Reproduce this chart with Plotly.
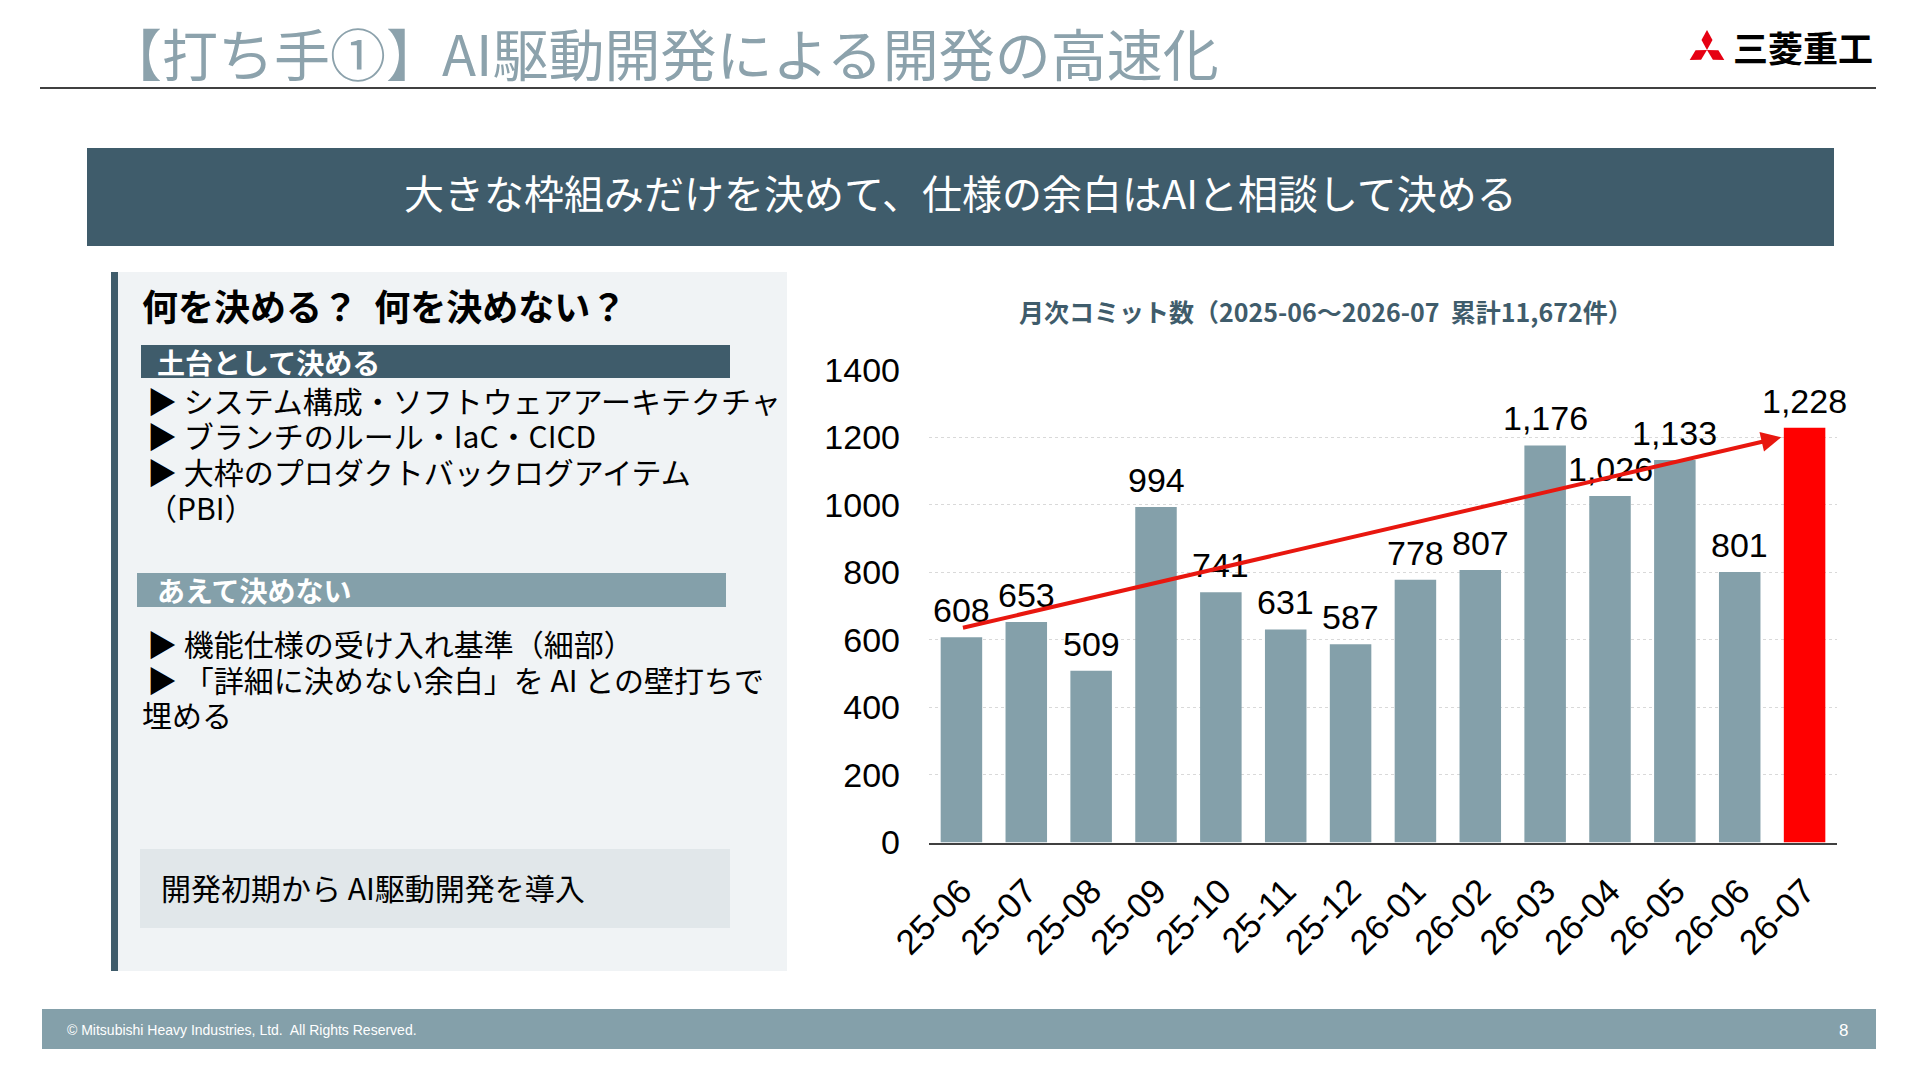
import plotly.graph_objects as go

# monthly commit counts
months = ["25-06", "25-07", "25-08", "25-09", "25-10", "25-11", "25-12",
          "26-01", "26-02", "26-03", "26-04", "26-05", "26-06", "26-07"]
commits = [608, 653, 509, 994, 741, 631, 587, 778, 807, 1176, 1026, 1133, 801, 1228]
y_ticks = [0, 200, 400, 600, 800, 1000, 1200, 1400]

# trend arrow (start month index / value, end month index / value)
trend_start = (0, 635)
trend_end = (12.64, 1200)

W, H = 1920, 1080
JP = "Noto Sans CJK JP"
NUM = "Liberation Sans, Arial, sans-serif"
DARK = "#3F5C6B"
LIGHT = "#84A0AA"


def px(x):
    return x / W


def py(y):
    return 1 - y / H


bar_colors = [LIGHT] * (len(months) - 1) + ["#FF0000"]

fig = go.Figure()
fig.add_trace(go.Bar(
    x=months, y=commits,
    marker=dict(color=bar_colors, line=dict(width=0)),
    showlegend=False, hoverinfo="x+y",
))

shapes = []


def rect(x0, y0, x1, y1, color):
    shapes.append(dict(type="rect", xref="paper", yref="paper",
                       x0=px(x0), x1=px(x1), y0=py(y1), y1=py(y0),
                       fillcolor=color, line=dict(width=0), layer="below"))


# header rule
shapes.append(dict(type="line", xref="paper", yref="paper",
                   x0=px(40), x1=px(1876), y0=py(88), y1=py(88),
                   line=dict(color="#000000", width=1.5)))
# banner
rect(87, 148, 1834, 246, DARK)
# left panel
rect(111, 272, 787, 971, "#F0F3F5")
rect(111, 272, 118, 971, DARK)
rect(141, 345, 730, 378, DARK)
rect(137, 573, 726, 607, LIGHT)
rect(140, 849, 730, 928, "#E1E7EA")
# footer
rect(42, 1009, 1876, 1049, LIGHT)


# logo diamonds
def diamond(pts):
    path = "M " + " L ".join(f"{px(a):.5f},{py(b):.5f}" for a, b in pts) + " Z"
    shapes.append(dict(type="path", xref="paper", yref="paper", path=path,
                       fillcolor="#E60012", line=dict(width=0)))


cx, cy = 1707, 50
diamond([(cx, 30), (cx + 5.5, 40), (cx, cy), (cx - 5.5, 40)])
diamond([(cx, cy), (cx - 5.9, cy + 9.8), (cx - 17.3, cy + 10), (cx - 11.4, cy + 0.2)])
diamond([(cx, cy), (cx + 5.9, cy + 9.8), (cx + 17.3, cy + 10), (cx + 11.4, cy + 0.2)])

ann = []


def text(x, y, s, size, color="#000000", family=JP, xanchor="left", bold=False):
    if bold:
        s = f"<b>{s}</b>"
    ann.append(dict(x=px(x), y=py(y), xref="paper", yref="paper", text=s,
                    showarrow=False, xanchor=xanchor, yanchor="middle",
                    font=dict(family=family, size=size, color=color)))


text(104, 51, "【打ち手①】AI駆動開発による開発の高速化", 56, "#8CA2AC")
text(1731, 46, "三菱重工", 35, "#000000", bold=True)
text(960, 192, "大きな枠組みだけを決めて、仕様の余白はAIと相談して決める", 40, "#FFFFFF", xanchor="center")

text(140, 305, "何を決める？  何を決めない？", 36, bold=True)
text(155, 362, "土台として決める", 28, "#FFFFFF", bold=True)
text(145, 400, "▶ システム構成・ソフトウェアアーキテクチャ", 30)
text(145, 435, "▶ ブランチのルール・IaC・CICD", 30)
text(145, 471, "▶ 大枠のプロダクトバックログアイテム", 30)
text(145, 507, "（PBI）", 30)
text(155, 590, "あえて決めない", 28, "#FFFFFF", bold=True)
text(145, 643, "▶ 機能仕様の受け入れ基準（細部）", 30)
text(145, 679, "▶ 「詳細に決めない余白」を AI との壁打ちで", 30)
text(140, 714, "埋める", 30)
text(159, 887, "開発初期から AI駆動開発を導入", 30)

text(1326, 311, "月次コミット数（2025-06～2026-07  累計11,672件）", 25, DARK, xanchor="center", bold=True)

text(65, 1030, "© Mitsubishi Heavy Industries, Ltd.  All Rights Reserved.", 14, "#FFFFFF", family=NUM)
text(1850, 1030, "8", 17, "#FFFFFF", family=NUM, xanchor="right")

# value labels above bars
for m, v in zip(months, commits):
    ann.append(dict(x=m, y=v, xref="x", yref="y", text=f"{v:,}", showarrow=False,
                    yanchor="bottom", yshift=6,
                    font=dict(family=NUM, size=34, color="#000000")))

# trend arrow
ann.append(dict(x=trend_end[0], y=trend_end[1], xref="x", yref="y",
                ax=trend_start[0], ay=trend_start[1], axref="x", ayref="y",
                showarrow=True, arrowhead=2, arrowsize=1, arrowwidth=4,
                arrowcolor="#E8170F", text=""))

fig.update_layout(
    width=W, height=H,
    margin=dict(l=0, r=0, t=0, b=0, pad=0),
    paper_bgcolor="#FFFFFF", plot_bgcolor="#FFFFFF",
    shapes=shapes, annotations=ann,
    bargap=0.36,
    xaxis=dict(type="category", domain=[px(929), px(1837)], range=[-0.5, len(months) - 0.5],
               tickangle=-45, tickfont=dict(family=NUM, size=35, color="#000000"),
               showline=True, linecolor="#404040", linewidth=2,
               showgrid=False, ticks="", ticklabelstandoff=12, automargin=False),
    yaxis=dict(domain=[py(842.5), py(369.8)], range=[0, 1400],
               tickvals=y_ticks, tickfont=dict(family=NUM, size=34, color="#000000"),
               showgrid=True, gridcolor="#D9D9D9", griddash="dot", gridwidth=1,
               zeroline=False, showline=False, ticklabelstandoff=28, automargin=False),
)

fig.write_html("out.html", config={"displayModeBar": False},
               post_script="document.body.style.margin='0px';")
